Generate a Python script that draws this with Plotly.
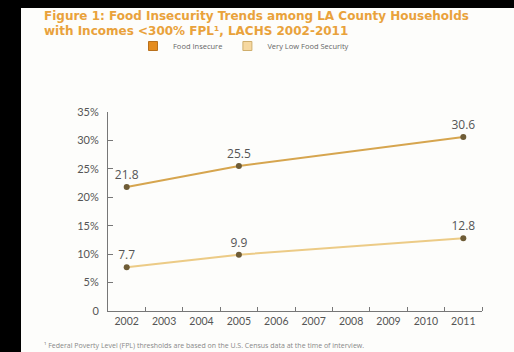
import plotly.graph_objects as go

years = [2002, 2005, 2011]
food_insecure = [21.8, 25.5, 30.6]
very_low = [7.7, 9.9, 12.8]
year_ticks = list(range(2002, 2012))
y_ticks = [0, 5, 10, 15, 20, 25, 30, 35]
y_tick_text = ["0", "5%", "10%", "15%", "20%", "25%", "30%", "35%"]

W, H = 514, 352
L, R, T, B = 108, 482, 112, 311

def px(x):
    return (x - L) / (R - L)

def py(y):
    return (B - y) / (B - T)

fig = go.Figure()

fig.add_trace(go.Scatter(
    x=years, y=food_insecure, mode="lines+markers+text",
    text=[f"{v:.1f}" for v in food_insecure], textposition="top center",
    textfont=dict(size=12, color="#555555", family="Open Sans"),
    line=dict(color="#d6a54e", width=2),
    marker=dict(size=6, color="#6e5c36"), showlegend=False, cliponaxis=False))
fig.add_trace(go.Scatter(
    x=years, y=very_low, mode="lines+markers+text",
    text=[f"{v:.1f}" for v in very_low], textposition="top center",
    textfont=dict(size=12, color="#555555", family="Open Sans"),
    line=dict(color="#eccb86", width=2),
    marker=dict(size=6, color="#6e5c36"), showlegend=False, cliponaxis=False))

# legend entries
fig.add_trace(go.Scatter(x=[None], y=[None], mode="markers", name="Food Insecure",
    marker=dict(symbol="square", size=9, color="#e48c1f", line=dict(color="#b8701c", width=1))))
fig.add_trace(go.Scatter(x=[None], y=[None], mode="markers", name="Very Low Food Security",
    marker=dict(symbol="square", size=9, color="#f6d8a0", line=dict(color="#cfae6c", width=1))))

fig.update_layout(
    width=W, height=H,
    margin=dict(l=L, r=W - R, t=T, b=H - B, pad=0),
    paper_bgcolor="#fdfdfb", plot_bgcolor="rgba(0,0,0,0)",
    font=dict(family="Open Sans", color="#555555"),
    legend=dict(orientation="h", x=px(133), y=py(46), xanchor="left", yanchor="middle",
                font=dict(size=7.5, color="#666666"), bgcolor="rgba(0,0,0,0)",
                itemwidth=30, tracegroupgap=0),
    xaxis=dict(range=[2001.5, 2011.5], tickvals=year_ticks, ticktext=[str(y) for y in year_ticks],
               showgrid=False, zeroline=False, showline=True, linecolor="#777777", linewidth=1,
               ticks="", tickfont=dict(size=10.5, color="#555555", family="Lato"),
               minor=dict(ticks="inside", tickvals=[y + 0.5 for y in year_ticks], ticklen=4,
                          tickcolor="#777777", showgrid=False),
               fixedrange=True),
    yaxis=dict(range=[0, 35], tickvals=y_ticks, ticktext=y_tick_text,
               showgrid=False, zeroline=False, showline=True, linecolor="#777777", linewidth=1,
               ticks="inside", ticklen=5, tickcolor="#777777",
               tickfont=dict(size=11, color="#555555", family="Lato"),
               ticklabelstandoff=6, fixedrange=True),
    shapes=[
        dict(type="rect", xref="paper", yref="paper", x0=px(0), x1=px(21), y0=py(H), y1=py(0),
             fillcolor="black", line=dict(width=0), layer="above"),
        dict(type="rect", xref="paper", yref="paper", x0=px(0), x1=px(W), y0=py(8), y1=py(0),
             fillcolor="black", line=dict(width=0), layer="above"),
    ],
    annotations=[
        dict(text="<b>Figure 1: Food Insecurity Trends among LA County Households</b>",
             xref="paper", yref="paper", x=px(42), y=py(16), xanchor="left", yanchor="middle",
             showarrow=False, font=dict(size=12, color="#e9a23b", family="DejaVu Sans")),
        dict(text="<b>with Incomes &lt;300% FPL¹, LACHS 2002-2011</b>",
             xref="paper", yref="paper", x=px(42), y=py(31), xanchor="left", yanchor="middle",
             showarrow=False, font=dict(size=12, color="#e9a23b", family="DejaVu Sans")),
        dict(text="¹ Federal Poverty Level (FPL) thresholds are based on the U.S. Census data at the time of interview.",
             xref="paper", yref="paper", x=px(42), y=py(345), xanchor="left", yanchor="middle",
             showarrow=False, font=dict(size=7, color="#888888", family="Open Sans")),
    ],
)

fig.write_html("out.html")
